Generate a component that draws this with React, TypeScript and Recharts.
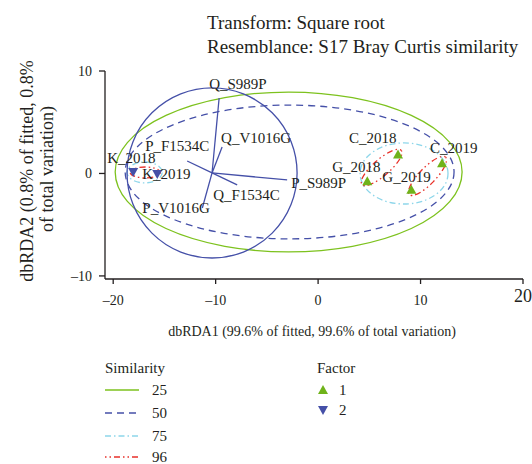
import React from 'react';
import {
  ScatterChart,
  Scatter,
  XAxis,
  YAxis,
  ReferenceLine,
  ReferenceArea,
} from 'recharts';

// samples (dbRDA scores)
const sampleNames = ['K_2018', 'K_2019', 'C_2018', 'C_2019', 'G_2018', 'G_2019'];
const sampleX = [-18.05, -15.7, 7.8, 12.1, 4.8, 9.1];
const sampleY = [0.15, -0.05, 1.85, 1.0, -0.75, -1.6];
const sampleFactor = [2, 2, 1, 1, 1, 1];

// predictor vectors
const vectorNames = ['Q_S989P', 'Q_V1016G', 'P_F1534C', 'P_S989P', 'Q_F1534C', 'P_V1016G'];
const vectorX = [-9.66, -9.37, -12.78, -3.02, -7.9, -11.3];
const vectorY = [7.37, 2.59, 1.22, -0.63, -1.12, -3.37];
const vectorOrigin = [-10.35, 0.05];
const vectorCircleRadius = 8.3;

// similarity contours
const contourLevel = [25, 50, 75, 75, 96, 96, 96];
const contourCx = [-2.875, -2.78, -16.93, 8.39, -16.88, 6.2, 10.68];
const contourCy = [0.145, 0.145, 0.1, 0, 0.1, 0.59, -0.24];
const contourRx = [16.93, 16.05, 1.71, 4.29, 1.47, 2.54, 2.54];
const contourRy = [7.8, 6.53, 1.02, 2.98, 0.53, 0.8, 0.8];
const contourAngle = [0, 0, 0, 0, 0, -41, -46];

const xTicks = [-20, -10, 0, 10, 20];
const yTicks = [-10, 0, 10];
const similarityLevels = [25, 50, 75, 96];
const factorLevels = [1, 2];

const FONT = 'Liberation Serif, DejaVu Serif, serif';
const INK = '#231f20';
const GREEN = '#7dc21e';
const BLUE = '#4550a8';
const CYAN = '#8dd6ea';
const RED = '#e8312a';

const levelStyle: Record<number, { stroke: string; dash?: string }> = {
  25: { stroke: GREEN },
  50: { stroke: BLUE, dash: '7 5' },
  75: { stroke: CYAN, dash: '6 3 1.5 3' },
  96: { stroke: RED, dash: '1.5 3 1.5 3 6 3' },
};

// label placement (text start / baseline relative to the mark)
const labelOffset: Record<string, [number, number]> = {
  K_2018: [-26, -9],
  K_2019: [-15, 5],
  C_2018: [-49, -12],
  C_2019: [-12, -10],
  G_2018: [-35, -9],
  G_2019: [-29, -8],
  Q_S989P: [-10, -9],
  Q_V1016G: [-1, -4],
  P_F1534C: [-42, -10],
  P_S989P: [4, 8],
  Q_F1534C: [-24, 15],
  P_V1016G: [-60, 5],
};

const samples = sampleNames.map((name, i) => ({
  name,
  x: sampleX[i],
  y: sampleY[i],
  factor: sampleFactor[i],
}));
const vectors = vectorNames.map((name, i) => ({ name, x: vectorX[i], y: vectorY[i] }));

const textStyle = { fontFamily: FONT };

function triangle(cx: number, cy: number, up: boolean) {
  return up
    ? `${cx},${cy - 5} ${cx - 5},${cy + 4} ${cx + 5},${cy + 4}`
    : `${cx - 5},${cy - 4} ${cx + 5},${cy - 4} ${cx},${cy + 5}`;
}

function SamplePoint(props: any) {
  const { cx, cy, payload } = props;
  const up = payload.factor === 1;
  const [dx, dy] = labelOffset[payload.name] || [0, 0];
  return (
    <g>
      <polygon points={triangle(cx, cy, up)} fill={up ? '#6fb31a' : BLUE} />
      <text x={cx + dx} y={cy + dy} fontSize={15} style={textStyle} fill={INK}>
        {payload.name}
      </text>
    </g>
  );
}

function VectorLabel(props: any) {
  const { cx, cy, payload } = props;
  const [dx, dy] = labelOffset[payload.name] || [0, 0];
  return (
    <text x={cx + dx} y={cy + dy} fontSize={15} style={textStyle} fill={INK}>
      {payload.name}
    </text>
  );
}

function ellipseShape(stroke: string, dash: string | undefined, angle: number) {
  return (p: any) => {
    const cx = p.x + p.width / 2;
    const cy = p.y + p.height / 2;
    return (
      <ellipse
        cx={cx}
        cy={cy}
        rx={Math.abs(p.width) / 2}
        ry={Math.abs(p.height) / 2}
        transform={angle ? `rotate(${angle} ${cx} ${cy})` : undefined}
        fill="none"
        stroke={stroke}
        strokeWidth={1.3}
        strokeDasharray={dash}
      />
    );
  };
}

function XTick(props: any) {
  const { x, y, payload } = props;
  const v = payload.value;
  const big = v === 20;
  const txt = v < 0 ? `\u2013${Math.abs(v)}` : `${v}`;
  return (
    <text
      x={x}
      y={big ? y + 18 : y + 21}
      textAnchor="middle"
      fontSize={big ? 18 : 14}
      style={textStyle}
      fill={INK}
    >
      {txt}
    </text>
  );
}

function YTick(props: any) {
  const { x, y, payload } = props;
  const v = payload.value;
  const txt = v < 0 ? `\u2013${Math.abs(v)}` : `${v}`;
  return (
    <text x={x} y={y + 5} textAnchor="end" fontSize={14} style={textStyle} fill={INK}>
      {txt}
    </text>
  );
}

function Overlay() {
  const legendY = [390, 413, 436, 457];
  return (
    <svg
      width={532}
      height={464}
      style={{ position: 'absolute', left: 0, top: 0, pointerEvents: 'none', fontFamily: FONT }}
      fill={INK}
    >
      <text x={207} y={29} fontSize={19}>Transform: Square root</text>
      <text x={207} y={53} fontSize={19}>Resemblance: S17 Bray Curtis similarity</text>

      <text x={33} y={171} fontSize={18} textAnchor="middle" transform="rotate(-90 33 171)">
        dbRDA2 (0.8% of fitted, 0.8%
      </text>
      <text x={53} y={169} fontSize={18} textAnchor="middle" transform="rotate(-90 53 169)">
        of total variation)
      </text>

      <text x={312} y={336} fontSize={14} textAnchor="middle">
        dbRDA1 (99.6% of fitted, 99.6% of total variation)
      </text>

      <text x={105} y={373} fontSize={15}>Similarity</text>
      {similarityLevels.map((lvl, i) => (
        <g key={lvl}>
          <line
            x1={105}
            x2={139}
            y1={legendY[i]}
            y2={legendY[i]}
            stroke={levelStyle[lvl].stroke}
            strokeWidth={1.4}
            strokeDasharray={levelStyle[lvl].dash}
          />
          <text x={152} y={legendY[i] + 5} fontSize={15}>{lvl}</text>
        </g>
      ))}

      <text x={317} y={373} fontSize={15}>Factor</text>
      {factorLevels.map((f, i) => (
        <g key={f}>
          <polygon
            points={triangle(323, 390 + i * 20, f === 1)}
            fill={f === 1 ? '#6fb31a' : BLUE}
          />
          <text x={339} y={395 + i * 20} fontSize={15}>{f}</text>
        </g>
      ))}
    </svg>
  );
}

export default function App() {
  const [ox, oy] = vectorOrigin;
  const r = vectorCircleRadius;
  return (
    <div style={{ position: 'absolute', left: 0, top: 0, width: 532, height: 464, background: '#fff' }}>
      <ScatterChart width={532} height={464} margin={{ top: 71, right: 9, bottom: 0, left: 0 }}>
        <XAxis
          type="number"
          dataKey="x"
          domain={[-20.8, 20]}
          ticks={xTicks}
          allowDataOverflow
          height={185}
          tickSize={5}
          tickMargin={0}
          tick={<XTick />}
          axisLine={{ stroke: INK, strokeWidth: 1.3 }}
          tickLine={{ stroke: INK, strokeWidth: 1.3 }}
        />
        <YAxis
          type="number"
          dataKey="y"
          domain={[-10.3, 10]}
          ticks={yTicks}
          allowDataOverflow
          width={105}
          tickSize={6}
          tickMargin={7}
          tick={<YTick />}
          axisLine={{ stroke: INK, strokeWidth: 1.3 }}
          tickLine={{ stroke: INK, strokeWidth: 1.3 }}
        />

        {contourLevel.map((lvl, i) => (
          <ReferenceArea
            key={`c${i}`}
            x1={contourCx[i] - contourRx[i]}
            x2={contourCx[i] + contourRx[i]}
            y1={contourCy[i] - contourRy[i]}
            y2={contourCy[i] + contourRy[i]}
            ifOverflow="visible"
            shape={ellipseShape(levelStyle[lvl].stroke, levelStyle[lvl].dash, contourAngle[i])}
          />
        ))}

        <ReferenceArea
          x1={ox - r}
          x2={ox + r}
          y1={oy - r}
          y2={oy + r}
          ifOverflow="visible"
          shape={ellipseShape(BLUE, undefined, 0)}
        />

        {vectors.map((v) => (
          <ReferenceLine
            key={v.name}
            segment={[
              { x: ox, y: oy },
              { x: v.x, y: v.y },
            ]}
            stroke={BLUE}
            strokeWidth={1.3}
            ifOverflow="visible"
          />
        ))}

        <Scatter data={vectors} shape={<VectorLabel />} isAnimationActive={false} />
        <Scatter data={samples} shape={<SamplePoint />} isAnimationActive={false} />
      </ScatterChart>
      <Overlay />
    </div>
  );
}
